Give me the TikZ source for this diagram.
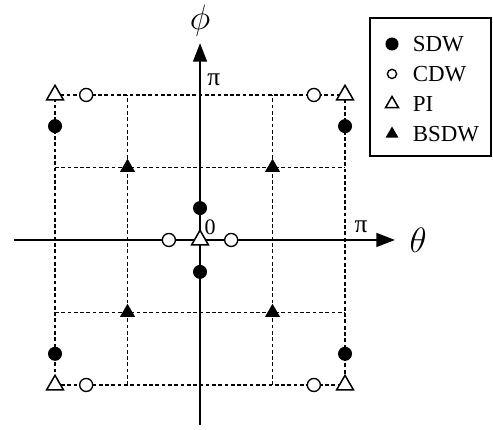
\documentclass[tikz,border=0pt]{standalone}
\usepackage{fontspec}
\setmainfont{Liberation Serif}
\usetikzlibrary{positioning}
\usetikzlibrary{shapes.geometric, arrows.meta}

\tikzset{
    sdw/.style={circle, fill=black, inner sep=0pt, minimum size=0.29cm},
    cdw/.style={circle, draw=black, fill=white, line width=0.8pt, inner sep=0pt, minimum size=0.27cm},
    pimark/.style={regular polygon, regular polygon sides=3, draw=black, fill=white, line width=0.9pt, inner sep=0pt, minimum size=0.40cm},
    bsdw/.style={regular polygon, regular polygon sides=3, fill=black, inner sep=0pt, minimum size=0.36cm},
    lsdw/.style={sdw, minimum size=0.27cm},
    lcdw/.style={cdw, minimum size=0.19cm},
    lpi/.style={pimark, minimum size=0.31cm},
    lbsdw/.style={bsdw, minimum size=0.31cm},
    rejilla/.style={line width=0.8pt, dash pattern=on 2.2pt off 1.5pt},
    eje/.style={line width=1.6pt, -{Triangle[length=11pt, width=8pt]}}
}

\begin{document}
\begin{tikzpicture}[x=1.5cm, y=1.5cm]
    \useasboundingbox (-2.759,-2.621) rectangle (4.041,3.310);

    % Rejilla
    \draw[rejilla] (-2,-2) rectangle (2,2);
    \foreach \c in {-1,1} {
        \draw[rejilla] (\c,-2) -- (\c,2);
        \draw[rejilla] (-2,\c) -- (2,\c);
    }

    % Ejes
    \coordinate (xini) at (-2.566,0);
    \coordinate (xfin) at (2.69,0);
    \coordinate (yini) at (0,-2.552);
    \coordinate (yfin) at (0,2.717);
    \draw[eje] (xini) -- (xfin);
    \draw[eje] (yini) -- (yfin);
    \node (theta) at (3.01,0.0) {\fontsize{22}{26}\selectfont$\theta$};
    \node (phi) at (0,3.03) {\fontsize{21.5}{25}\selectfont$\phi$};
    \node[inner sep=0pt] (pitop) at (0.19,2.21) {\fontsize{15}{17}\selectfont π};
    \node[inner sep=0pt] (piright) at (2.22,0.18) {\fontsize{15}{17}\selectfont π};
    \node[inner sep=0pt] (cero) at (0.14,0.17) {\fontsize{13}{15}\selectfont 0};

    % Fases
    \foreach \sx/\a in {-1/l,1/r} {
        \foreach \sy/\b in {-1/d,1/u} {
            \node[sdw] (sdw\a\b) at (2*\sx,1.57*\sy) {};
            \node[cdw] (cdw\a\b) at (1.57*\sx,2*\sy) {};
            \node[pimark] (pi\a\b) at (2*\sx,2*\sy) {};
            \node[bsdw] (bsdw\a\b) at (\sx,\sy) {};
        }
    }
    \node[sdw] (sdwu) at (0,0.44) {};
    \node[sdw] (sdwd) at (0,-0.44) {};
    \node[cdw] (cdwl) at (-0.43,0) {};
    \node[cdw] (cdwr) at (0.43,0) {};
    \node[pimark] (pio) at (0,0) {};

    % Leyenda
    \draw[line width=1pt] (2.345,1.159) rectangle (4.014,3.062);
    \foreach \y/\sty/\txt/\nm in {2.703/lsdw/SDW/a, 2.29/lcdw/CDW/b, 1.876/lpi/PI/c, 1.462/lbsdw/BSDW/d} {
        \node[\sty] (m\nm) at (2.648,\y) {};
        \node[anchor=west, inner sep=0pt] (t\nm) at (2.93,\y) {\fontsize{13.5}{16}\selectfont \txt};
    }
\end{tikzpicture}
\end{document}
